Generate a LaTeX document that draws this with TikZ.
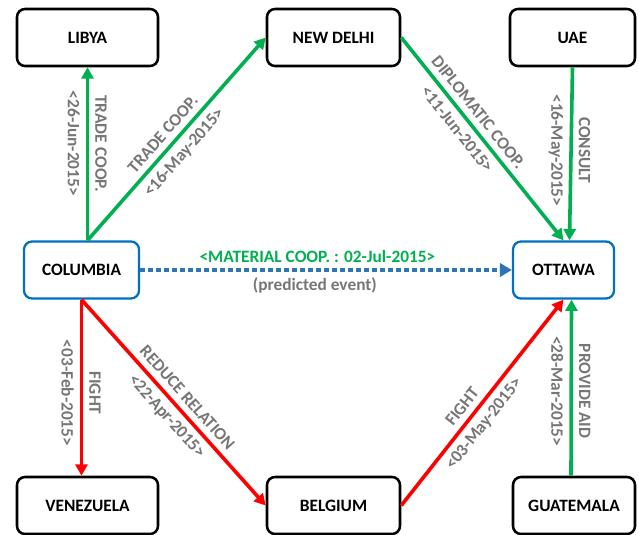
\documentclass[tikz,border=0pt]{standalone}
\usepackage{fontspec}
\setmainfont{Carlito}
\usetikzlibrary{arrows.meta}
\definecolor{coopgreen}{RGB}{0,176,80}
\definecolor{fightred}{RGB}{255,0,0}
\definecolor{cityblue}{RGB}{0,112,192}
\definecolor{predblue}{RGB}{46,117,182}
\definecolor{labelgray}{RGB}{118,118,118}
\begin{document}
\begin{tikzpicture}[x=0.75pt, y=-0.75pt,
    city/.style={rectangle, draw, rounded corners=6pt, line width=1.9pt, minimum height=42.75pt, inner sep=2pt, font=\bfseries\fontsize{13}{15}\selectfont},
    focus/.style={city, draw=cityblue, line width=1.7pt},
    event/.style={line width=2.7pt, -{Triangle[length=8.5pt, width=9pt]}},
    coop/.style={event, draw=coopgreen, fill=coopgreen},
    conflict/.style={event, draw=fightred, fill=fightred},
    predicted/.style={draw=predblue, line width=2.8pt, dash pattern=on 3.5pt off 2.5pt, -{Triangle[length=9pt, width=10pt, fill=predblue]}},
    tag/.style={font=\bfseries\fontsize{13}{15}\selectfont, text=labelgray, inner sep=4.5pt}]

\useasboundingbox (0,0) rectangle (639,535);

\node[city, minimum width=105.75pt] (lib) at (87.5,37.5) {LIBYA};
\node[city, minimum width=99.75pt] (ndl) at (333.5,37.5) {NEW DELHI};
\node[city, minimum width=93.75pt] (uae) at (572.5,37.5) {UAE};
\node[focus, minimum width=86.25pt] (col) at (81.5,270) {COLUMBIA};
\node[focus, minimum width=75.75pt] (ott) at (563.5,270) {OTTAWA};
\node[city, minimum width=105.75pt] (ven) at (87.5,505.5) {VENEZUELA};
\node[city, minimum width=99.75pt] (bel) at (333.5,505.5) {BELGIUM};
\node[city, minimum width=91.5pt] (gua) at (574,505.5) {GUATEMALA};

\draw[coop] (col.north -| lib.south) -- node[tag, pos=0.56, rotate=-90, above] {TRADE COOP.} node[tag, pos=0.56, rotate=-90, below] {<26-Jun-2015>} (lib.south);
\draw[coop] (col.north -| lib.south) -- node[tag, pos=0.48, sloped, above] {TRADE COOP.} node[tag, pos=0.48, sloped, below] {<16-May-2015>} (ndl.west);
\draw[coop] (ndl.east) -- node[tag, pos=0.41, sloped, above] {DIPLOMATIC COOP.} node[tag, pos=0.41, sloped, below] {<11-Jun-2015>} (ott.north);
\draw[coop] (uae.south) -- node[tag, pos=0.48, rotate=-90, above] {CONSULT} node[tag, pos=0.48, rotate=-90, below] {<16-May-2015>} ([xshift=4.5pt]ott.north);
\draw[predicted] (col.east) -- node[tag, pos=0.477, above, text=coopgreen] {<MATERIAL COOP. : 02-Jul-2015>} node[tag, pos=0.47, below] {(predicted event)} (ott.west);
\draw[conflict] (col.south) -- node[tag, pos=0.53, rotate=-90, above] {FIGHT} node[tag, pos=0.53, rotate=-90, below] {<03-Feb-2015>} (col.south |- ven.north);
\draw[conflict] (col.south) -- node[tag, pos=0.52, sloped, above] {REDUCE RELATION} node[tag, pos=0.52, sloped, below] {<22-Apr-2015>} (bel.west);
\draw[conflict] (bel.east) -- node[tag, pos=0.44, sloped, above] {FIGHT} node[tag, pos=0.44, sloped, below] {<03-May-2015>} (ott.south);
\draw[coop] ([xshift=-2.25pt]gua.north) -- node[tag, pos=0.48, rotate=-90, above] {PROVIDE AID} node[tag, pos=0.48, rotate=-90, below] {<28-Mar-2015>} ([xshift=6pt]ott.south);
\end{tikzpicture}
\end{document}
